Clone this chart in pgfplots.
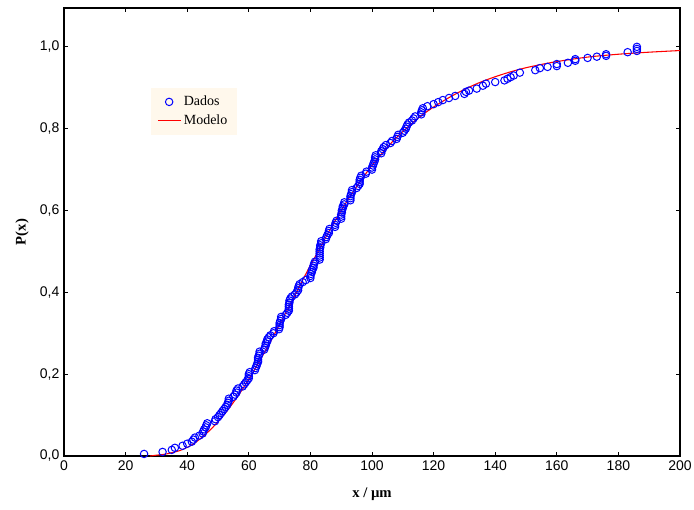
\documentclass[border=0pt]{standalone}
\usepackage{fontspec}
\setmainfont{Liberation Serif}
\setsansfont{Liberation Sans}
\usepackage{pgfplots}
\pgfplotsset{compat=1.18}
\usetikzlibrary{calc}
\definecolor{legbg}{RGB}{255,248,236}
\begin{document}
\begin{tikzpicture}
\begin{axis}[name=ax, scale only axis, width=462pt, height=336pt,
  xmin=0, xmax=200, ymin=0, ymax=1.095,
  xtick={0,20,40,60,80,100,120,140,160,180,200},
  ytick={0,0.2,0.4,0.6,0.8,1.0},
  tick align=inside, major tick length=3pt, tick pos=both,
  axis line style={line width=0.9pt, black},
  every tick/.style={black, line width=0.6pt},
  /pgf/number format/assume math mode=true,
  ticklabel style={font=\sffamily\fontsize{10.5}{12}\selectfont},
  yticklabel style={/pgf/number format/.cd, fixed, fixed zerofill, precision=1, use comma},
  xticklabel style={/pgf/number format/.cd, fixed, precision=0},
  xlabel={\textbf{x / µm}}, ylabel={\textbf{P(x)}},
  label style={font=\fontsize{11}{12}\selectfont},
  xlabel style={at={(axis description cs:0.5,-0.0848)}, anchor=center},
  ylabel style={at={(axis description cs:-0.068,0.5)}, anchor=center},
  legend style={at={(axis cs:28,0.9)}, anchor=north west, fill=legbg, draw=none,
    font=\fontsize{10.5}{12}\selectfont, row sep=1.5pt, inner xsep=5pt, inner ysep=4pt},
  legend cell align=left,
]
\addplot[only marks, mark=o, mark size=2.8pt, blue, mark options={line width=0.75pt}] coordinates {
(26,0.005) (32,0.010) (35,0.015) (36,0.020) (38.5,0.025) (40,0.030) (41.5,0.035) (42,0.040)
(42.5,0.045) (44,0.050) (45,0.055) (45.2,0.060) (45.5,0.065) (46,0.070) (46.2,0.075) (46.5,0.080)
(49,0.085) (49.2,0.090) (50,0.095) (50.5,0.100) (51,0.105) (51.5,0.110) (52,0.115) (52.5,0.120)
(53,0.125) (53.2,0.130) (53.5,0.135) (53.5,0.140) (55,0.145) (55.5,0.150) (56,0.155) (56,0.160)
(56.5,0.165) (58,0.170) (58.5,0.175) (59,0.180) (59.5,0.185) (60,0.190) (60,0.195) (60,0.200)
(60.3,0.205) (62,0.210) (62.2,0.215) (62.5,0.220) (62.7,0.225) (63,0.230) (63,0.235) (63,0.240)
(63.2,0.245) (63.5,0.250) (63.5,0.255) (65,0.260) (65.2,0.265) (65.5,0.270) (65.5,0.275) (66,0.280)
(66,0.285) (66.5,0.290) (67,0.295) (68,0.300) (68.2,0.305) (69.8,0.310) (70,0.315) (70,0.320)
(70,0.325) (70.2,0.330) (70.5,0.335) (70.5,0.340) (72,0.345) (72.5,0.350) (73,0.355) (73,0.360)
(73,0.365) (73,0.370) (73.2,0.375) (73.2,0.380) (73.5,0.385) (74,0.390) (75,0.395) (75.5,0.400)
(76,0.405) (76,0.410) (76.2,0.415) (76.5,0.420) (77.5,0.425) (78.5,0.430) (80,0.435) (80,0.440)
(80.2,0.445) (80.5,0.450) (80.5,0.455) (81,0.460) (81,0.465) (81.2,0.470) (81.5,0.475) (83,0.480)
(83,0.485) (83,0.490) (83,0.495) (83,0.500) (83,0.505) (83.2,0.510) (83.2,0.515) (83.5,0.520)
(83.5,0.525) (85,0.530) (85.2,0.535) (85.5,0.540) (86,0.545) (86,0.550) (86.2,0.555) (88,0.560)
(88,0.565) (88.2,0.570) (88.5,0.575) (90,0.580) (90,0.585) (90,0.590) (90.2,0.595) (90.2,0.600)
(90.5,0.605) (90.5,0.610) (91,0.615) (91,0.620) (93,0.625) (93,0.630) (93,0.635) (93.2,0.640)
(93.5,0.645) (93.5,0.650) (95,0.655) (95.5,0.660) (96,0.665) (96,0.670) (96,0.675) (96.2,0.680)
(96.5,0.685) (98,0.690) (98.2,0.695) (100,0.700) (100,0.705) (100.3,0.710) (100.5,0.715) (100.8,0.720)
(101,0.725) (101,0.730) (101.2,0.735) (103,0.740) (103,0.745) (103.5,0.750) (103.8,0.755) (104.5,0.760)
(106,0.765) (106.5,0.770) (108,0.775) (108.2,0.780) (108.5,0.785) (110,0.790) (110.5,0.795) (111,0.800)
(111.2,0.805) (111.5,0.810) (112,0.815) (113,0.820) (113.5,0.825) (114,0.830) (116,0.835) (116,0.840)
(116.2,0.845) (116.5,0.850) (118,0.855) (120,0.860) (121.5,0.865) (123,0.870) (125,0.875) (127,0.880)
(130,0.885) (130.5,0.890) (131.5,0.893) (134,0.898) (136,0.905) (137,0.910) (140,0.914) (143,0.918)
(144,0.922) (145,0.926) (146,0.930) (148,0.937) (153,0.943) (154.5,0.948) (157,0.951) (160,0.953)
(160,0.958) (163.6,0.961) (166,0.966) (166,0.970) (170,0.973) (173,0.976) (176,0.978) (176,0.982)
(183,0.987) (186,0.990) (186,0.995) (186,1.000)
};
\addlegendentry{Dados}
\addplot[color=red, line width=0.8pt, smooth,
  legend image code/.code={\draw[red, line width=0.9pt] (0cm,0.02cm) -- (0.6cm,0.02cm);}] coordinates {
(28,0) (30,0.002) (32.5,0.004) (35,0.008) (37.5,0.013) (40,0.021) (42.5,0.032) (45,0.047)
(47.5,0.064) (50,0.084) (52.5,0.106) (55,0.131) (57.5,0.158) (60,0.188) (62.5,0.219) (65,0.252)
(67.5,0.286) (70,0.322) (72.5,0.357) (75,0.393) (77.5,0.43) (80,0.466) (82.5,0.5) (85,0.535)
(87.5,0.568) (90,0.6) (92.5,0.63) (95,0.658) (97.5,0.685) (100,0.71) (105,0.755) (110,0.793)
(115,0.826) (120,0.853) (125,0.876) (130,0.896) (135,0.913) (140,0.927) (145,0.939) (150,0.949)
(155,0.957) (160,0.964) (170,0.975) (180,0.982) (190,0.987) (200,0.991)
};
\addlegendentry{Modelo}
\end{axis}
\pgfresetboundingbox
\path[use as bounding box] ($(ax.south west)+(-48pt,-39.75pt)$) rectangle ($(ax.north east)+(10.5pt,6pt)$);
\end{tikzpicture}
\end{document}
